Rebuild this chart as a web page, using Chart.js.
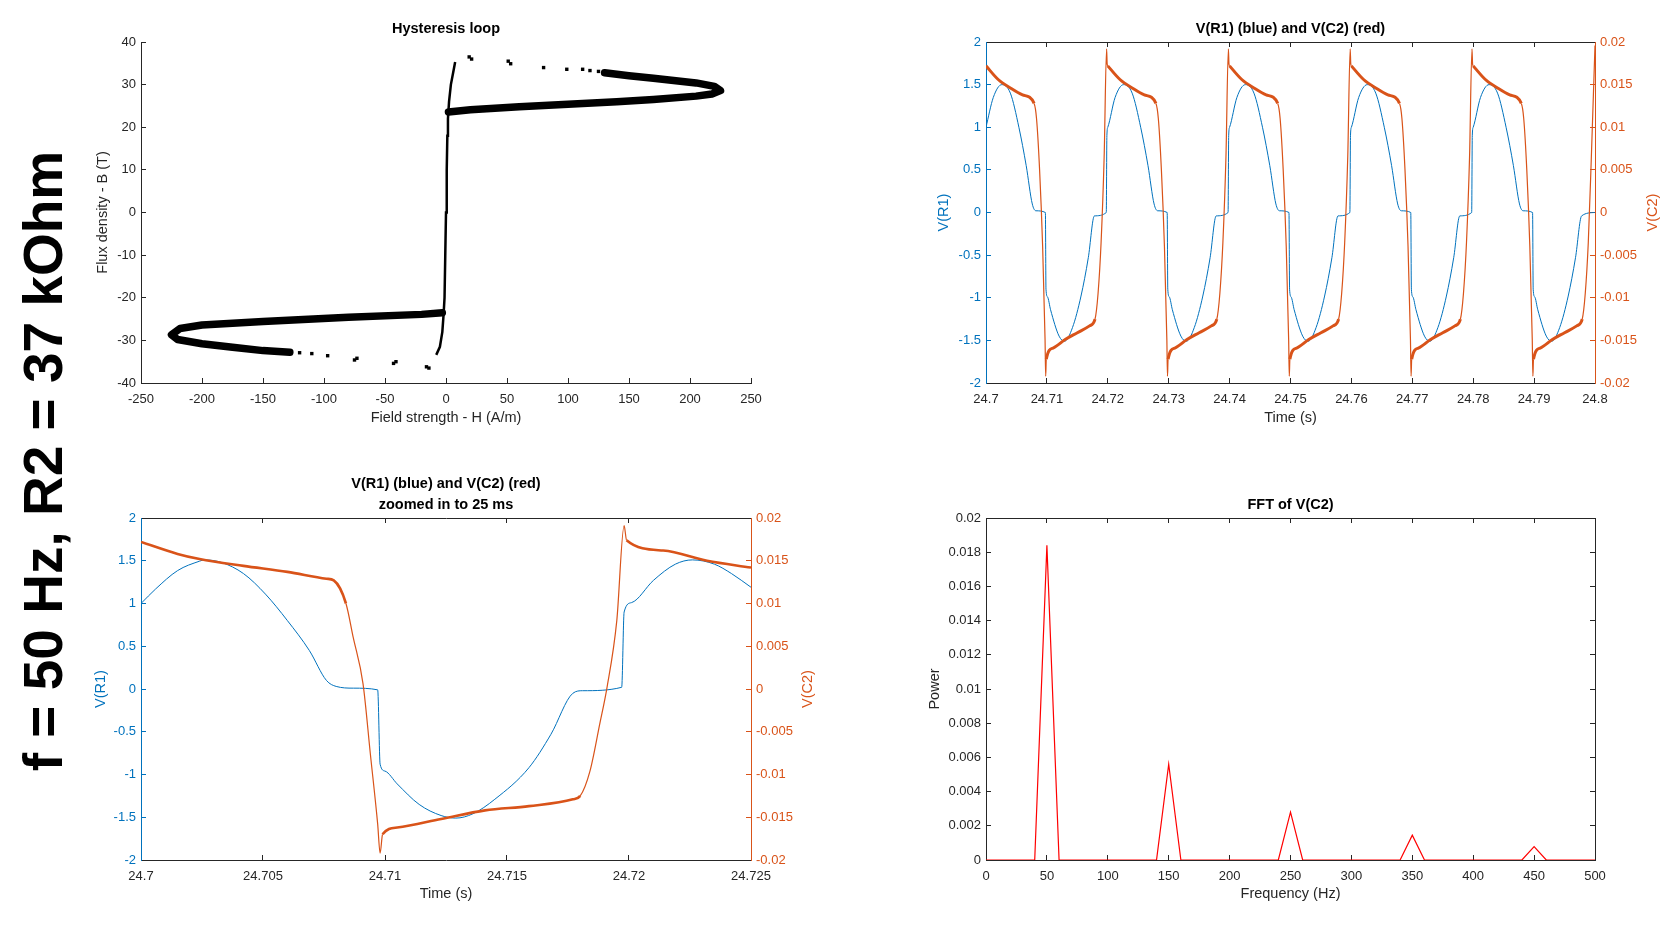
<!DOCTYPE html>
<html lang="en">
<head>
<meta charset="UTF-8">
<title>f = 50 Hz, R2 = 37 kOhm</title>
<script src="https://cdn.jsdelivr.net/npm/chart.js"></script>
<style>
    body {
        margin: 0;
        width: 1673px;
        height: 925px;
        position: relative;
        overflow: hidden;
        background: #fff;
        font-family: "Liberation Sans", Arial, sans-serif;
    }

    canvas {
        position: absolute;
    }

    #tl { left: 80px; top: 0; }
    #tr { left: 880px; top: 0; }
    #bl { left: 80px; top: 440px; }
    #br { left: 880px; top: 440px; }

    .side-note {
        position: absolute;
        left: 43px;
        top: 461px;
        font-size: 55px;
        font-weight: bold;
        white-space: nowrap;
        color: #000;
        transform: translate(-50%, -50%) rotate(-90deg);
    }
</style>
</head>
<body>

<div class="side-note">f = 50 Hz, R2 = 37 kOhm</div>

<canvas id="tl" width="780" height="440"></canvas>
<canvas id="tr" width="793" height="440"></canvas>
<canvas id="bl" width="780" height="485"></canvas>
<canvas id="br" width="793" height="485"></canvas>

<script>
// ---------- values ----------

// hysteresis loop (H in A/m, B in T)
const hystTicksX = [-250, -200, -150, -100, -50, 0, 50, 100, 150, 200, 250];
const hystTicksY = [-40, -30, -20, -10, 0, 10, 20, 30, 40];
const loopUpperH = [2, 20, 60, 100, 140, 170, 205, 218, 225, 220, 205, 170, 150, 130];
const loopUpperB = [23.6, 24.1, 24.8, 25.4, 26.0, 26.5, 27.3, 27.8, 28.6, 29.6, 30.4, 31.5, 32.1, 32.8];
const loopLowerH = [-3, -20, -80, -150, -200, -218, -225, -220, -200, -175, -150, -128];
const loopLowerB = [-23.5, -23.9, -24.6, -25.6, -26.4, -27.2, -28.7, -29.8, -30.8, -31.6, -32.4, -32.8];
const loopCoreH = [-8, -5, -3, -2, -1.2, -0.6, 0, 0.6, 1.1, 1.6, 2.5, 4, 6, 7.5];
const loopCoreB = [-33.4, -31.5, -28, -24, -20, -10, 0, 10, 18, 22, 26, 30, 33, 35.3];
const loopDotsH = [19, 21, 51, 53, 80, 99, 112, 118, 125, -16, -14, -43, -41, -75, -73, -97, -110, -120];
const loopDotsB = [36.5, 36.0, 35.5, 34.9, 34.0, 33.6, 33.6, 33.3, 33.1, -36.2, -36.5, -35.4, -35.0, -34.6, -34.2, -33.6, -33.1, -32.9];

// 100 ms window
const trTimeTicks = [24.7, 24.71, 24.72, 24.73, 24.74, 24.75, 24.76, 24.77, 24.78, 24.79, 24.8];
const vr1Ticks = [-2, -1.5, -1, -0.5, 0, 0.5, 1, 1.5, 2];
const vc2Ticks = [-0.02, -0.015, -0.01, -0.005, 0, 0.005, 0.01, 0.015, 0.02];

const trBlueT = [
    24.7, 24.7012, 24.7026, 24.704, 24.7054, 24.7066, 24.7076, 24.7082, 24.70975, 24.70985, 24.7101, 24.7106, 24.712, 24.7129, 24.7142, 24.7156, 24.7168, 24.7178, 24.71975, 24.71985,
    24.72, 24.7212, 24.7226, 24.724, 24.7254, 24.7266, 24.7276, 24.7282, 24.72975, 24.72985, 24.7301, 24.7306, 24.732, 24.7329, 24.7342, 24.7356, 24.7368, 24.7378, 24.73975, 24.73985,
    24.74, 24.7412, 24.7426, 24.744, 24.7454, 24.7466, 24.7476, 24.7482, 24.74975, 24.74985, 24.7501, 24.7506, 24.752, 24.7529, 24.7542, 24.7556, 24.7568, 24.7578, 24.75975, 24.75985,
    24.76, 24.7612, 24.7626, 24.764, 24.7654, 24.7666, 24.7676, 24.7682, 24.76975, 24.76985, 24.7701, 24.7706, 24.772, 24.7729, 24.7742, 24.7756, 24.7768, 24.7778, 24.77975, 24.77985,
    24.78, 24.7812, 24.7826, 24.784, 24.7854, 24.7866, 24.7876, 24.7882, 24.78975, 24.78985, 24.7901, 24.7906, 24.792, 24.7929, 24.7942, 24.7956, 24.7968, 24.7978, 24.8
];
const trBlueV = [
    1.00, 1.35, 1.50, 1.40, 1.00, 0.55, 0.10, 0.02, 0.00, -0.90, -0.99, -1.14, -1.45, -1.51, -1.35, -0.98, -0.53, -0.04, 0.00, 0.90,
    1.00, 1.35, 1.50, 1.40, 1.00, 0.55, 0.10, 0.02, 0.00, -0.90, -0.99, -1.14, -1.45, -1.51, -1.35, -0.98, -0.53, -0.04, 0.00, 0.90,
    1.00, 1.35, 1.50, 1.40, 1.00, 0.55, 0.10, 0.02, 0.00, -0.90, -0.99, -1.14, -1.45, -1.51, -1.35, -0.98, -0.53, -0.04, 0.00, 0.90,
    1.00, 1.35, 1.50, 1.40, 1.00, 0.55, 0.10, 0.02, 0.00, -0.90, -0.99, -1.14, -1.45, -1.51, -1.35, -0.98, -0.53, -0.04, 0.00, 0.90,
    1.00, 1.35, 1.50, 1.40, 1.00, 0.55, 0.10, 0.02, 0.00, -0.90, -0.99, -1.14, -1.45, -1.51, -1.35, -0.98, -0.53, -0.04, 0.00
];
const trRedT = [
    24.7, 24.702, 24.704, 24.706, 24.7079, 24.7083, 24.7088, 24.7093, 24.7097, 24.7098, 24.7099, 24.711, 24.713, 24.715, 24.717, 24.7179, 24.7184, 24.7189, 24.7194, 24.7198, 24.7199,
    24.72, 24.722, 24.724, 24.726, 24.7279, 24.7283, 24.7288, 24.7293, 24.7297, 24.7298, 24.7299, 24.731, 24.733, 24.735, 24.737, 24.7379, 24.7384, 24.7389, 24.7394, 24.7398, 24.7399,
    24.74, 24.742, 24.744, 24.746, 24.7479, 24.7483, 24.7488, 24.7493, 24.7497, 24.7498, 24.7499, 24.751, 24.753, 24.755, 24.757, 24.7579, 24.7584, 24.7589, 24.7594, 24.7598, 24.7599,
    24.76, 24.762, 24.764, 24.766, 24.7679, 24.7683, 24.7688, 24.7693, 24.7697, 24.7698, 24.7699, 24.771, 24.773, 24.775, 24.777, 24.7779, 24.7784, 24.7789, 24.7794, 24.7798, 24.7799,
    24.78, 24.782, 24.784, 24.786, 24.7879, 24.7883, 24.7888, 24.7893, 24.7897, 24.7898, 24.7899, 24.791, 24.793, 24.795, 24.797, 24.7979, 24.7984, 24.7989, 24.7994, 24.8
];
const trRedV = [
    0.0172, 0.0156, 0.0146, 0.0138, 0.0128, 0.0110, 0.0050, -0.0040, -0.0150, -0.0192, -0.0172, -0.0159, -0.0149, -0.0141, -0.0133, -0.0125, -0.0095, -0.0035, 0.0065, 0.0192, 0.0174,
    0.0172, 0.0156, 0.0146, 0.0138, 0.0128, 0.0110, 0.0050, -0.0040, -0.0150, -0.0192, -0.0172, -0.0159, -0.0149, -0.0141, -0.0133, -0.0125, -0.0095, -0.0035, 0.0065, 0.0192, 0.0174,
    0.0172, 0.0156, 0.0146, 0.0138, 0.0128, 0.0110, 0.0050, -0.0040, -0.0150, -0.0192, -0.0172, -0.0159, -0.0149, -0.0141, -0.0133, -0.0125, -0.0095, -0.0035, 0.0065, 0.0192, 0.0174,
    0.0172, 0.0156, 0.0146, 0.0138, 0.0128, 0.0110, 0.0050, -0.0040, -0.0150, -0.0192, -0.0172, -0.0159, -0.0149, -0.0141, -0.0133, -0.0125, -0.0095, -0.0035, 0.0065, 0.0192, 0.0174,
    0.0172, 0.0156, 0.0146, 0.0138, 0.0128, 0.0110, 0.0050, -0.0040, -0.0150, -0.0192, -0.0172, -0.0159, -0.0149, -0.0141, -0.0133, -0.0125, -0.0095, -0.0035, 0.0065, 0.0196
];

// 25 ms window
const blTimeTicks = [24.7, 24.705, 24.71, 24.715, 24.72, 24.725];
const blBlueT = [24.7, 24.7006, 24.7015, 24.7024, 24.7026, 24.7033, 24.7042, 24.7051, 24.706, 24.7069, 24.7076, 24.708, 24.7087,
    24.7097, 24.7098, 24.71, 24.7105, 24.7114, 24.7123, 24.7129, 24.7136, 24.7145, 24.7159, 24.7168, 24.7177, 24.7181,
    24.7197, 24.7198, 24.7201, 24.721, 24.7219, 24.7226, 24.7235, 24.7242, 24.725];
const blBlueV = [1.00, 1.17, 1.385, 1.495, 1.51, 1.48, 1.35, 1.11, 0.80, 0.45, 0.10, 0.03, 0.01,
    -0.01, -0.88, -0.96, -1.11, -1.35, -1.48, -1.51, -1.46, -1.29, -0.92, -0.53, -0.05, -0.02,
    0.02, 0.90, 1.01, 1.27, 1.46, 1.51, 1.46, 1.35, 1.19];
const blRedT = [24.7, 24.7015, 24.7024, 24.7042, 24.706, 24.7076, 24.7079, 24.7084, 24.7087, 24.7091, 24.7094, 24.7097, 24.7098,
    24.7099, 24.7105, 24.7123, 24.7141, 24.7159, 24.7177, 24.718, 24.7184, 24.7188, 24.7191, 24.7195, 24.7198,
    24.7199, 24.7214, 24.7232, 24.725];
const blRedV = [0.0172, 0.0158, 0.0152, 0.0144, 0.0137, 0.0129, 0.0127, 0.0100, 0.0060, 0.0006, -0.0076, -0.0158, -0.0192,
    -0.0170, -0.0162, -0.0152, -0.0142, -0.0137, -0.0129, -0.0125, -0.0096, -0.0041, 0.0002, 0.0080, 0.0191,
    0.0174, 0.0162, 0.0150, 0.0142];

// spectrum
const fftTicksX = [0, 50, 100, 150, 200, 250, 300, 350, 400, 450, 500];
const fftTicksY = [0, 0.002, 0.004, 0.006, 0.008, 0.01, 0.012, 0.014, 0.016, 0.018, 0.02];
const fftFreq = [0, 40, 50, 60, 140, 150, 160, 240, 250, 260, 340, 350, 360, 440, 450, 460, 500];
const fftPower = [0, 0, 0.0184, 0, 0, 0.0056, 0, 0, 0.0028, 0, 0, 0.00145, 0, 0, 0.00078, 0, 0];

// ---------- styling ----------
const AX = '#262626';
const BLUE = '#0072BD';
const ORANGE = '#D95319';
const FAMILY = "'Liberation Sans', Arial, sans-serif";
const tickFont = { family: FAMILY, size: 13 };
const labelFont = { family: FAMILY, size: 14.5 };

const pairs = (xs, ys) => xs.map((x, i) => ({ x: x, y: ys[i] }));

// thin on the steep edges, thicker where the trace is noisy
const noisyWidth = thick => ctx => {
    const dx = Math.abs(ctx.p1.x - ctx.p0.x);
    const dy = Math.abs(ctx.p1.y - ctx.p0.y);
    return dy > dx * 2 ? 1.2 : thick;
};

// MATLAB-ish axis: fixed ticks, inward tick marks, fixed box size
function linAxis(o) {
    const horiz = o.pos === 'top' || o.pos === 'bottom';
    const col = o.color || AX;
    return {
        type: 'linear',
        position: o.pos,
        min: o.min,
        max: o.max,
        afterBuildTicks: s => { s.ticks = o.ticks.map(v => ({ value: v })); },
        afterFit: s => { if (horiz) s.height = o.size; else s.width = o.size; },
        grid: { drawOnChartArea: false, tickLength: -5, color: col, lineWidth: 1 },
        border: { color: col, width: 1 },
        ticks: {
            display: o.labels !== false,
            color: col,
            font: tickFont,
            padding: horiz ? 14 : 10,
            autoSkip: false,
            maxRotation: 0,
            minRotation: 0,
            callback: v => String(v)
        },
        title: o.title ? {
            display: true,
            text: o.title,
            color: col,
            font: labelFont,
            padding: horiz ? { top: 0, bottom: o.titlePad } : { top: o.titlePad, bottom: 0 }
        } : { display: false }
    };
}

// right-hand axis label, reads bottom to top like the left one
const rightTitle = {
    id: 'rightTitle',
    afterDraw(chart, args, opts) {
        const { ctx, chartArea } = chart;
        ctx.save();
        ctx.translate(opts.x, (chartArea.top + chartArea.bottom) / 2);
        ctx.rotate(-Math.PI / 2);
        ctx.fillStyle = opts.color;
        ctx.font = labelFont.size + 'px ' + FAMILY;
        ctx.textAlign = 'center';
        ctx.textBaseline = 'middle';
        ctx.fillText(opts.text, 0, 0);
        ctx.restore();
    }
};

function baseOptions(extra) {
    return Object.assign({
        responsive: false,
        animation: false,
        events: [],
        elements: { point: { radius: 0 }, line: { tension: 0 } }
    }, extra);
}

function titleOpts(text, padTop, padBottom, lineHeight) {
    return {
        display: true,
        text: text,
        color: '#000',
        fullSize: false,
        font: { family: FAMILY, size: 14.5, weight: 'bold', lineHeight: lineHeight || 1.2 },
        padding: { top: padTop, bottom: padBottom }
    };
}

// ---------- hysteresis loop ----------
new Chart(document.getElementById('tl'), {
    type: 'scatter',
    data: {
        datasets: [
            { data: pairs(loopUpperH, loopUpperB), showLine: true, borderColor: '#000', borderWidth: 7.5, borderJoinStyle: 'round', borderCapStyle: 'round', pointRadius: 0 },
            { data: pairs(loopLowerH, loopLowerB), showLine: true, borderColor: '#000', borderWidth: 7.5, borderJoinStyle: 'round', borderCapStyle: 'round', pointRadius: 0 },
            { data: pairs(loopCoreH, loopCoreB), showLine: true, borderColor: '#000', borderWidth: 2.5, pointRadius: 0 },
            { data: pairs(loopDotsH, loopDotsB), showLine: false, pointStyle: 'rect', pointRadius: 2.4, backgroundColor: '#000', borderWidth: 0 }
        ]
    },
    options: baseOptions({
        layout: { padding: { left: 0, right: 109, top: 0, bottom: 0 } },
        plugins: {
            legend: { display: false },
            tooltip: { enabled: false },
            title: titleOpts('Hysteresis loop', 20.3, 4.3)
        },
        scales: {
            x: linAxis({ pos: 'bottom', min: -250, max: 250, ticks: hystTicksX, size: 57, title: 'Field strength - H (A/m)', titlePad: 13.3 }),
            y: linAxis({ pos: 'left', min: -40, max: 40, ticks: hystTicksY, size: 61, title: 'Flux density - B (T)', titlePad: 14.3 })
        }
    })
});

// ---------- V(R1) and V(C2), 100 ms ----------
new Chart(document.getElementById('tr'), {
    type: 'line',
    data: {
        datasets: [
            { data: pairs(trRedT, trRedV), yAxisID: 'y2', borderColor: ORANGE, borderWidth: 1.2, pointRadius: 0, cubicInterpolationMode: 'monotone', segment: { borderWidth: noisyWidth(3) } },
            { data: pairs(trBlueT, trBlueV), yAxisID: 'y', borderColor: BLUE, borderWidth: 1, pointRadius: 0, cubicInterpolationMode: 'monotone' }
        ]
    },
    plugins: [rightTitle],
    options: baseOptions({
        layout: { padding: 0 },
        plugins: {
            legend: { display: false },
            tooltip: { enabled: false },
            title: titleOpts('V(R1) (blue) and V(C2) (red)', 20.3, 4.3),
            rightTitle: { text: 'V(C2)', color: ORANGE, x: 773 }
        },
        scales: {
            x: linAxis({ pos: 'bottom', min: 24.7, max: 24.8, ticks: trTimeTicks, size: 57, title: 'Time (s)', titlePad: 13.3 }),
            xTop: linAxis({ pos: 'top', min: 24.7, max: 24.8, ticks: trTimeTicks, size: 0, labels: false }),
            y: linAxis({ pos: 'left', min: -2, max: 2, ticks: vr1Ticks, size: 106, color: BLUE, title: 'V(R1)', titlePad: 55.3 }),
            y2: linAxis({ pos: 'right', min: -0.02, max: 0.02, ticks: vc2Ticks, size: 78, color: ORANGE })
        }
    })
});

// ---------- V(R1) and V(C2), 25 ms ----------
new Chart(document.getElementById('bl'), {
    type: 'line',
    data: {
        datasets: [
            { data: pairs(blRedT, blRedV), yAxisID: 'y2', borderColor: ORANGE, borderWidth: 1.2, pointRadius: 0, cubicInterpolationMode: 'monotone', segment: { borderWidth: noisyWidth(2.6) } },
            { data: pairs(blBlueT, blBlueV), yAxisID: 'y', borderColor: BLUE, borderWidth: 1, pointRadius: 0, cubicInterpolationMode: 'monotone' }
        ]
    },
    plugins: [rightTitle],
    options: baseOptions({
        layout: { padding: 0 },
        plugins: {
            legend: { display: false },
            tooltip: { enabled: false },
            title: titleOpts(['V(R1) (blue) and V(C2) (red)', 'zoomed in to 25 ms'], 34.25, 3.15, 1.4),
            rightTitle: { text: 'V(C2)', color: ORANGE, x: 728 }
        },
        scales: {
            x: linAxis({ pos: 'bottom', min: 24.7, max: 24.725, ticks: blTimeTicks, size: 65, title: 'Time (s)', titlePad: 22.3 }),
            xTop: linAxis({ pos: 'top', min: 24.7, max: 24.725, ticks: blTimeTicks, size: 0, labels: false }),
            y: linAxis({ pos: 'left', min: -2, max: 2, ticks: vr1Ticks, size: 61, color: BLUE, title: 'V(R1)', titlePad: 12.3 }),
            y2: linAxis({ pos: 'right', min: -0.02, max: 0.02, ticks: vc2Ticks, size: 109, color: ORANGE })
        }
    })
});

// ---------- FFT ----------
new Chart(document.getElementById('br'), {
    type: 'line',
    data: {
        datasets: [
            { data: pairs(fftFreq, fftPower), borderColor: '#FF0000', borderWidth: 1.2, pointRadius: 0 }
        ]
    },
    options: baseOptions({
        layout: { padding: { left: 0, right: 78, top: 0, bottom: 0 } },
        plugins: {
            legend: { display: false },
            tooltip: { enabled: false },
            title: titleOpts('FFT of V(C2)', 56, 4.6)
        },
        scales: {
            x: linAxis({ pos: 'bottom', min: 0, max: 500, ticks: fftTicksX, size: 65, title: 'Frequency (Hz)', titlePad: 22.3 }),
            xTop: linAxis({ pos: 'top', min: 0, max: 500, ticks: fftTicksX, size: 0, labels: false }),
            y: linAxis({ pos: 'left', min: 0, max: 0.02, ticks: fftTicksY, size: 106, title: 'Power', titlePad: 45.8 }),
            yRight: linAxis({ pos: 'right', min: 0, max: 0.02, ticks: fftTicksY, size: 0, labels: false })
        }
    })
});
</script>

</body>
</html>
